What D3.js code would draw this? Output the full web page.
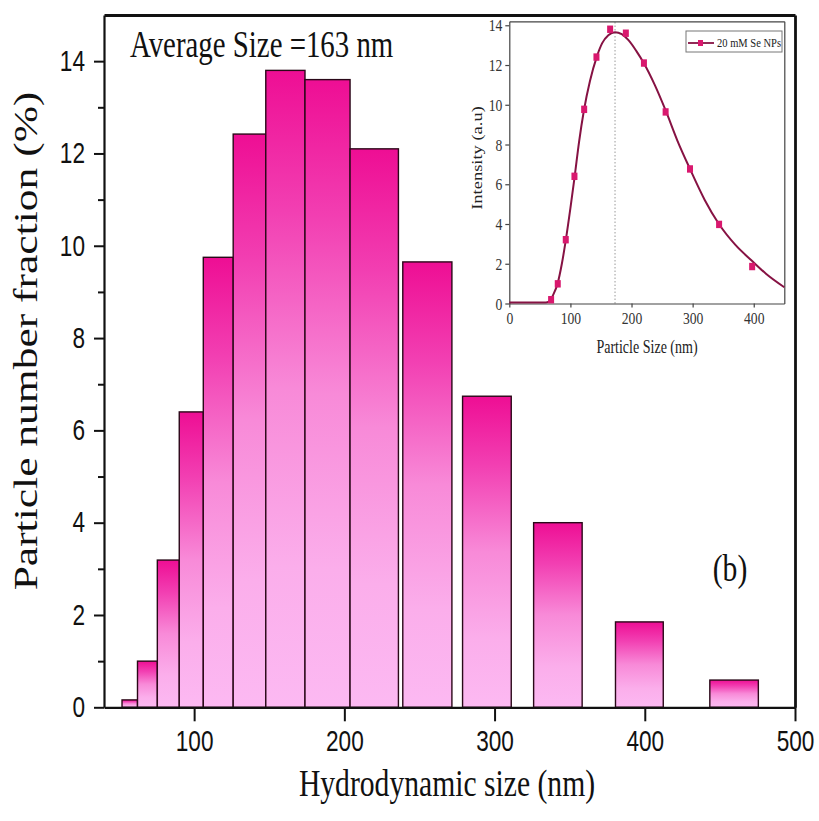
<!DOCTYPE html>
<html>
<head>
<meta charset="utf-8">
<script src="https://cdn.jsdelivr.net/npm/d3@7"></script>
<style>
  html, body { margin: 0; padding: 0; background: #ffffff; }
  svg { display: block; }
</style>
</head>
<body>
<svg id="chart" width="819" height="821"></svg>
<script>
// ---------------- DATA ----------------
// Main histogram: bin edges (nm) and particle number fraction (%)
const binStart = [52.0, 62.3, 75.5, 90.1, 106.1, 126.0, 147.7, 173.8, 203.8, 238.9, 278.7, 326.0, 380.5, 443.3];
const binEnd   = [62.3, 75.5, 90.1, 106.1, 126.0, 147.7, 173.8, 203.8, 236.0, 271.6, 311.1, 358.3, 412.3, 475.6];
const fraction = [0.16, 1.0, 3.19, 6.4, 9.75, 12.42, 13.8, 13.6, 12.1, 9.65, 6.74, 4.0, 1.85, 0.59];

const mainXTicks = [100, 200, 300, 400, 500];
const mainYTicks = [0, 2, 4, 6, 8, 10, 12, 14];
const mainYMinor = [1, 3, 5, 7, 9, 11, 13];

// Inset: measured points (particle size nm, intensity a.u.)
const insetPointX = [68.4, 79.3, 92.4, 106.6, 122.5, 142.6, 165.0, 190.7, 220.3, 255.8, 295.7, 343.3, 397.4];
const insetPointY = [0.19, 0.99, 3.21, 6.4, 9.77, 12.4, 13.8, 13.6, 12.1, 9.64, 6.77, 3.98, 1.86];
// Inset: fitted curve
const curveX = [0, 60, 64, 68, 72, 79, 86, 92, 100, 107, 114, 122, 132, 143, 152, 162, 173, 184, 195, 208, 220, 238, 256, 275, 296, 320, 343, 370, 397, 420, 450];
const curveY = [0.05, 0.05, 0.08, 0.2, 0.45, 1.0, 2.0, 3.1, 4.8, 6.4, 8.1, 9.7, 11.2, 12.4, 13.1, 13.5, 13.65, 13.55, 13.25, 12.7, 12.1, 11.0, 9.7, 8.2, 6.75, 5.2, 4.0, 2.95, 2.15, 1.5, 0.82];
const peakSize = 173;
const insetXTicks = [0, 100, 200, 300, 400];
const insetYTicks = [0, 2, 4, 6, 8, 10, 12, 14];

const averageLabel = "Average Size =163 nm";
const panelLabel = "(b)";
const legendLabel = "20 mM Se NPs";

// ---------------- DRAW ----------------
const SX = 0.78; // horizontal squeeze of the original picture
const svg = d3.select("#chart");

const defs = svg.append("defs");
const grad = defs.append("linearGradient").attr("id", "barGrad")
  .attr("x1", 0).attr("y1", 0).attr("x2", 0).attr("y2", 1);
[[0, "#ee0e94"], [0.22, "#f23fb2"], [0.5, "#f88ad8"], [0.78, "#fbaeeb"], [1, "#fcb9f2"]]
  .forEach(([o, c]) => grad.append("stop").attr("offset", o).attr("stop-color", c));

const x = d3.scaleLinear().domain([40, 500]).range([104, 795]);
const y = d3.scaleLinear().domain([0, 15]).range([707.3, 15]);

// bars
svg.append("g").selectAll("rect")
  .data(fraction.map((v, i) => ({ a: binStart[i], b: binEnd[i], v })))
  .join("rect")
  .attr("x", d => x(d.a))
  .attr("width", d => x(d.b) - x(d.a))
  .attr("y", d => y(d.v))
  .attr("height", d => y(0) - y(d.v))
  .attr("fill", "url(#barGrad)")
  .attr("stroke", "#2a0818")
  .attr("stroke-width", 1.4);

// axes
const tickFont = "'Liberation Sans', Arial, sans-serif";
const gx = svg.append("g").attr("transform", `translate(0,${y(0)})`)
  .call(d3.axisBottom(x).tickValues(mainXTicks).tickSize(14).tickSizeOuter(0).tickPadding(9));
gx.selectAll("text").attr("font-size", 29).attr("font-family", tickFont).attr("fill", "#111")
  .attr("transform", `scale(${SX},1)`);

const gyMinor = svg.append("g").attr("transform", `translate(${x(40)},0)`)
  .call(d3.axisLeft(y).tickValues(mainYMinor).tickSize(6).tickFormat(""));
gyMinor.select(".domain").remove();
const gy = svg.append("g").attr("transform", `translate(${x(40)},0)`)
  .call(d3.axisLeft(y).tickValues(mainYTicks).tickSize(10).tickSizeOuter(0));
gy.selectAll("text").attr("font-size", 29).attr("font-family", tickFont).attr("fill", "#111")
  .attr("x", -19 / SX).attr("transform", `scale(${SX},1)`);

[gx, gy, gyMinor].forEach(g => {
  g.selectAll(".domain").attr("stroke", "#111").attr("stroke-width", 2.2);
  g.selectAll(".tick line").attr("stroke", "#111").attr("stroke-width", 2);
});

// frame top + right
svg.append("g").attr("transform", `translate(0,${y(15)})`)
  .call(d3.axisTop(x).tickValues([]).tickSizeOuter(0))
  .select(".domain").attr("stroke", "#111").attr("stroke-width", 2.8);
svg.append("g").attr("transform", `translate(${x(500)},0)`)
  .call(d3.axisRight(y).tickValues([]).tickSizeOuter(0))
  .select(".domain").attr("stroke", "#111").attr("stroke-width", 2.8);

// texts
const serif = "'Liberation Serif', 'Times New Roman', serif";
function hText(txt, px, py, size, anchor) {
  svg.append("text").attr("transform", `translate(${px},${py}) scale(${SX},1)`)
    .attr("text-anchor", anchor || "start").attr("font-family", serif)
    .attr("font-size", size).attr("fill", "#111").text(txt);
}
hText(averageLabel, 130, 57, 37, "start");
hText(panelLabel, 730, 581, 38, "middle");
hText("Hydrodynamic size (nm)", 447, 796, 38, "middle");
svg.append("text").attr("transform", `translate(37,341) rotate(-90) scale(1,${SX})`)
  .attr("text-anchor", "middle").attr("font-family", serif).attr("font-size", 43.5)
  .attr("fill", "#111").text("Particle number fraction (%)");

// ---------------- INSET ----------------
const xi = d3.scaleLinear().domain([0, 450]).range([509.3, 784.3]);
const yi = d3.scaleLinear().domain([0, 14.2]).range([303.5, 21.3]);
const inset = svg.append("g");

inset.append("line").attr("x1", xi(peakSize)).attr("x2", xi(peakSize))
  .attr("y1", yi(0)).attr("y2", yi(14.2))
  .attr("stroke", "#999").attr("stroke-width", 1).attr("stroke-dasharray", "1.5,2");

const gxi = inset.append("g").attr("transform", `translate(0,${yi(0)})`)
  .call(d3.axisBottom(xi).tickValues(insetXTicks).tickSize(4).tickSizeOuter(0).tickPadding(4));
gxi.selectAll("text").attr("font-size", 17.5).attr("font-family", serif).attr("fill", "#333")
  .attr("transform", `scale(${SX},1)`);
const gyi = inset.append("g").attr("transform", `translate(${xi(0)},0)`)
  .call(d3.axisLeft(yi).tickValues(insetYTicks).tickSize(4).tickSizeOuter(0).tickPadding(3));
gyi.selectAll("text").attr("font-size", 17.5).attr("font-family", serif).attr("fill", "#333")
  .attr("x", -7 / SX).attr("transform", `scale(${SX},1)`);
inset.append("g").attr("transform", `translate(0,${yi(14.2)})`)
  .call(d3.axisTop(xi).tickValues([]).tickSizeOuter(0));
inset.append("g").attr("transform", `translate(${xi(450)},0)`)
  .call(d3.axisRight(yi).tickValues([]).tickSizeOuter(0));
inset.selectAll(".domain").attr("stroke", "#444").attr("stroke-width", 1.2);
inset.selectAll(".tick line").attr("stroke", "#444").attr("stroke-width", 1.2);

// curve
const line = d3.line().x(d => xi(d[0])).y(d => yi(d[1])).curve(d3.curveMonotoneX);
inset.append("path").datum(curveX.map((v, i) => [v, curveY[i]]))
  .attr("d", line).attr("fill", "none").attr("stroke", "#861243").attr("stroke-width", 2);

// markers
inset.append("g").selectAll("rect")
  .data(insetPointX.map((v, i) => [v, insetPointY[i]]))
  .join("rect")
  .attr("x", d => xi(d[0]) - 3).attr("y", d => yi(d[1]) - 3.7)
  .attr("width", 6).attr("height", 7.4).attr("fill", "#d9186e");

// inset labels
svg.append("text").attr("transform", `translate(${647},${353}) scale(${SX},1)`)
  .attr("text-anchor", "middle").attr("font-family", serif).attr("font-size", 18)
  .attr("fill", "#222").text("Particle Size (nm)");
svg.append("text").attr("transform", `translate(482,158) rotate(-90) scale(1,${SX})`)
  .attr("text-anchor", "middle").attr("font-family", serif).attr("font-size", 18.5)
  .attr("fill", "#222").text("Intensity (a.u)");

// legend
const lg = inset.append("g");
lg.append("rect").attr("x", 686).attr("y", 31).attr("width", 96).attr("height", 21)
  .attr("fill", "#fff").attr("stroke", "#777").attr("stroke-width", 1);
lg.append("line").attr("x1", 688).attr("x2", 714).attr("y1", 43).attr("y2", 43)
  .attr("stroke", "#861243").attr("stroke-width", 1.8);
lg.append("rect").attr("x", 698).attr("y", 40).attr("width", 5).attr("height", 6).attr("fill", "#d9186e");
lg.append("text").attr("transform", `translate(717,47) scale(${SX},1)`)
  .attr("font-family", serif).attr("font-size", 13.5).attr("fill", "#222").text(legendLabel);
</script>
</body>
</html>
